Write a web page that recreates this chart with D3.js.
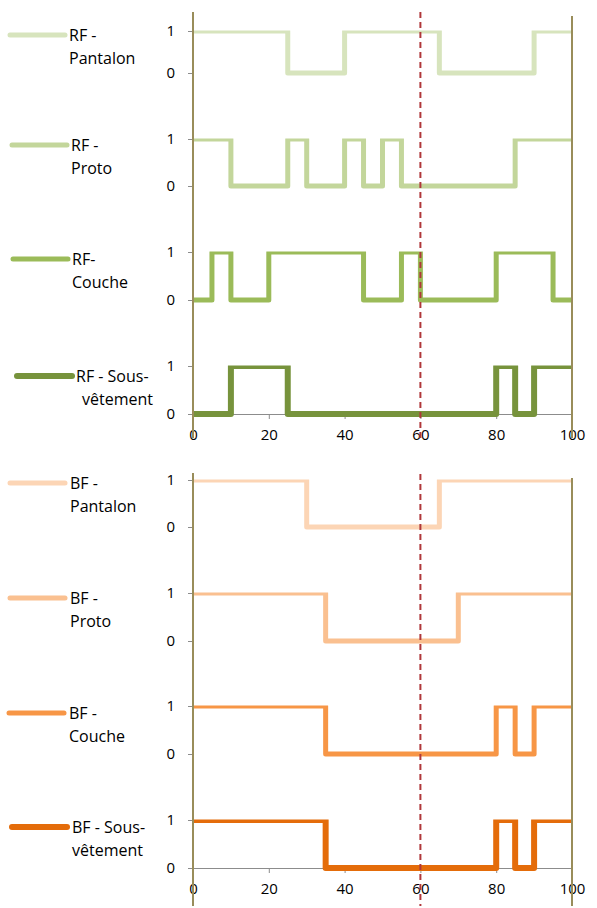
<!DOCTYPE html>
<html>
<head>
<meta charset="utf-8">
<script src="https://cdn.jsdelivr.net/npm/d3@7"></script>
<style>
  body { margin: 0; background: #fff; }
  text { font-family: "Open Sans", sans-serif; }
</style>
</head>
<body>
<div id="chart"></div>
<script>
// x axis ticks and the marker at 60
var xTicks = [0, 20, 40, 60, 80, 100];
var yTicks = [0, 1];
var markerX = 60;

// legend labels (two lines each)
var rfLabels = [["RF -", "Pantalon"], ["RF -", "Proto"], ["RF-", "Couche"], ["RF - Sous-", "vêtement"]];
var bfLabels = [["BF -", "Pantalon"], ["BF -", "Proto"], ["BF -", "Couche"], ["BF - Sous-", "vêtement"]];

// step series: change points and state from that point
var rfPantalonX = [0, 25, 40, 65, 90, 100];
var rfPantalonV = [1, 0, 1, 0, 1, 1];
var rfProtoX = [0, 10, 25, 30, 40, 45, 50, 55, 85, 100];
var rfProtoV = [1, 0, 1, 0, 1, 0, 1, 0, 1, 1];
var rfCoucheX = [0, 5, 10, 20, 45, 55, 60, 80, 95, 100];
var rfCoucheV = [0, 1, 0, 1, 0, 1, 0, 1, 0, 0];
var rfSousX = [0, 10, 25, 80, 85, 90, 100];
var rfSousV = [0, 1, 0, 1, 0, 1, 1];

var bfPantalonX = [0, 30, 65, 100];
var bfPantalonV = [1, 0, 1, 1];
var bfProtoX = [0, 35, 70, 100];
var bfProtoV = [1, 0, 1, 1];
var bfCoucheX = [0, 35, 80, 85, 90, 100];
var bfCoucheV = [1, 0, 1, 0, 1, 1];
var bfSousX = [0, 35, 80, 85, 90, 100];
var bfSousV = [1, 0, 1, 0, 1, 1];

var rfColors = ["#d7e4bd", "#c3d69b", "#9bbb59", "#77933c"];
var bfColors = ["#fcd5b5", "#fac090", "#f79646", "#e46c0a"];

var width = 597, height = 908;

var svg = d3.select("#chart").append("svg")
    .attr("width", width)
    .attr("height", height);

var x = d3.scaleLinear().domain([0, 100]).range([193, 572]);

function zip(xs, vs) {
  return xs.map(function(d, i) { return {x: d, v: vs[i]}; });
}

var panels = [
  {
    series: [zip(rfPantalonX, rfPantalonV), zip(rfProtoX, rfProtoV), zip(rfCoucheX, rfCoucheV), zip(rfSousX, rfSousV)],
    labels: rfLabels, colors: rfColors,
    top1: [31, 139, 252, 366], bot0: [73, 186, 300, 414],
    leftTop: 12, rightTop: 16, bottom: 438, dashTop: 12,
    legY: [35, 145, 259, 376], legX0: [10, 12, 13, 17], legTx: [[69, 69], [71, 71], [72, 72], [76, 82]],
    widths: [5, 5, 5, 6]
  },
  {
    series: [zip(bfPantalonX, bfPantalonV), zip(bfProtoX, bfProtoV), zip(bfCoucheX, bfCoucheV), zip(bfSousX, bfSousV)],
    labels: bfLabels, colors: bfColors,
    top1: [480, 593, 706, 820], bot0: [527, 641, 754, 868],
    leftTop: 473, rightTop: 478, bottom: 906, dashTop: 474,
    legY: [483, 598, 713, 827], legX0: [10, 10, 9, 12], legTx: [[70, 70], [70, 70], [69, 69], [72, 72]],
    widths: [5, 5, 5, 6]
  }
];

panels.forEach(function(p, pi) {
  var g = svg.append("g");

  p.series.forEach(function(data, i) {
    var y = d3.scaleLinear().domain([0, 1]).range([p.bot0[i], p.top1[i]]);

    // y axis (gray) with 0 / 1
    var yAxis = g.append("g")
        .attr("transform", "translate(" + x(0) + ",0)")
        .call(d3.axisLeft(y).tickValues(yTicks).tickSize(5).tickSizeOuter(0).tickPadding(13).tickFormat(d3.format("d")));
    yAxis.select(".domain").attr("stroke", "#8c8c8c");
    yAxis.selectAll(".tick line").attr("stroke", "#8c8c8c");
    yAxis.selectAll("text").style("font-size", "15px").attr("fill", "#000");

    // x axis under the last row of the panel
    if (i === 3) {
      var xAxis = g.append("g")
          .attr("transform", "translate(0," + p.bot0[i] + ")")
          .call(d3.axisBottom(x).tickValues(xTicks).tickSize(5).tickSizeOuter(0).tickPadding(10));
      xAxis.select(".domain").attr("stroke", "#8c8c8c");
      xAxis.selectAll(".tick line").attr("stroke", "#8c8c8c");
      xAxis.selectAll("text").style("font-size", "15px").attr("fill", "#000");
    }

    var clipId = "clip" + pi + "_" + i;
    svg.append("clipPath").attr("id", clipId)
      .append("rect")
        .attr("x", x(0) - 4)
        .attr("y", p.top1[i] - 0.5)
        .attr("width", x(100) - x(0) + 8)
        .attr("height", p.bot0[i] - p.top1[i] + 6);

    var line = d3.line()
        .curve(d3.curveStepAfter)
        .x(function(d) { return x(d.x); })
        .y(function(d) { return y(d.v); });

    g.append("path")
        .datum(data)
        .attr("clip-path", "url(#" + clipId + ")")
        .attr("fill", "none")
        .attr("stroke", p.colors[i])
        .attr("stroke-width", p.widths[i])
        .attr("stroke-linejoin", "round")
        .attr("d", line);

    // legend
    g.append("line")
        .attr("x1", p.legX0[i]).attr("x2", p.legX0[i] + 55)
        .attr("y1", p.legY[i]).attr("y2", p.legY[i])
        .attr("stroke", p.colors[i])
        .attr("stroke-width", p.widths[i])
        .attr("stroke-linecap", "round");

    p.labels[i].forEach(function(t, k) {
      g.append("text")
          .attr("x", p.legTx[i][k])
          .attr("y", p.legY[i] + 6 + k * 23)
          .style("font-size", "16px")
          .attr("fill", "#000")
          .text(t);
    });
  });

  // olive frame lines at 0 and 100
  g.append("line")
      .attr("x1", x(0)).attr("x2", x(0))
      .attr("y1", p.leftTop).attr("y2", p.bottom)
      .attr("stroke", "#998d5a").attr("stroke-width", 2);
  g.append("line")
      .attr("x1", x(100)).attr("x2", x(100))
      .attr("y1", p.rightTop).attr("y2", p.bottom)
      .attr("stroke", "#998d5a").attr("stroke-width", 2);

  // dashed marker
  g.append("line")
      .attr("x1", x(markerX)).attr("x2", x(markerX))
      .attr("y1", p.dashTop).attr("y2", p.bottom)
      .attr("stroke", "#b0373a")
      .attr("stroke-width", 2)
      .attr("stroke-dasharray", "6,4");
});
</script>
</body>
</html>
